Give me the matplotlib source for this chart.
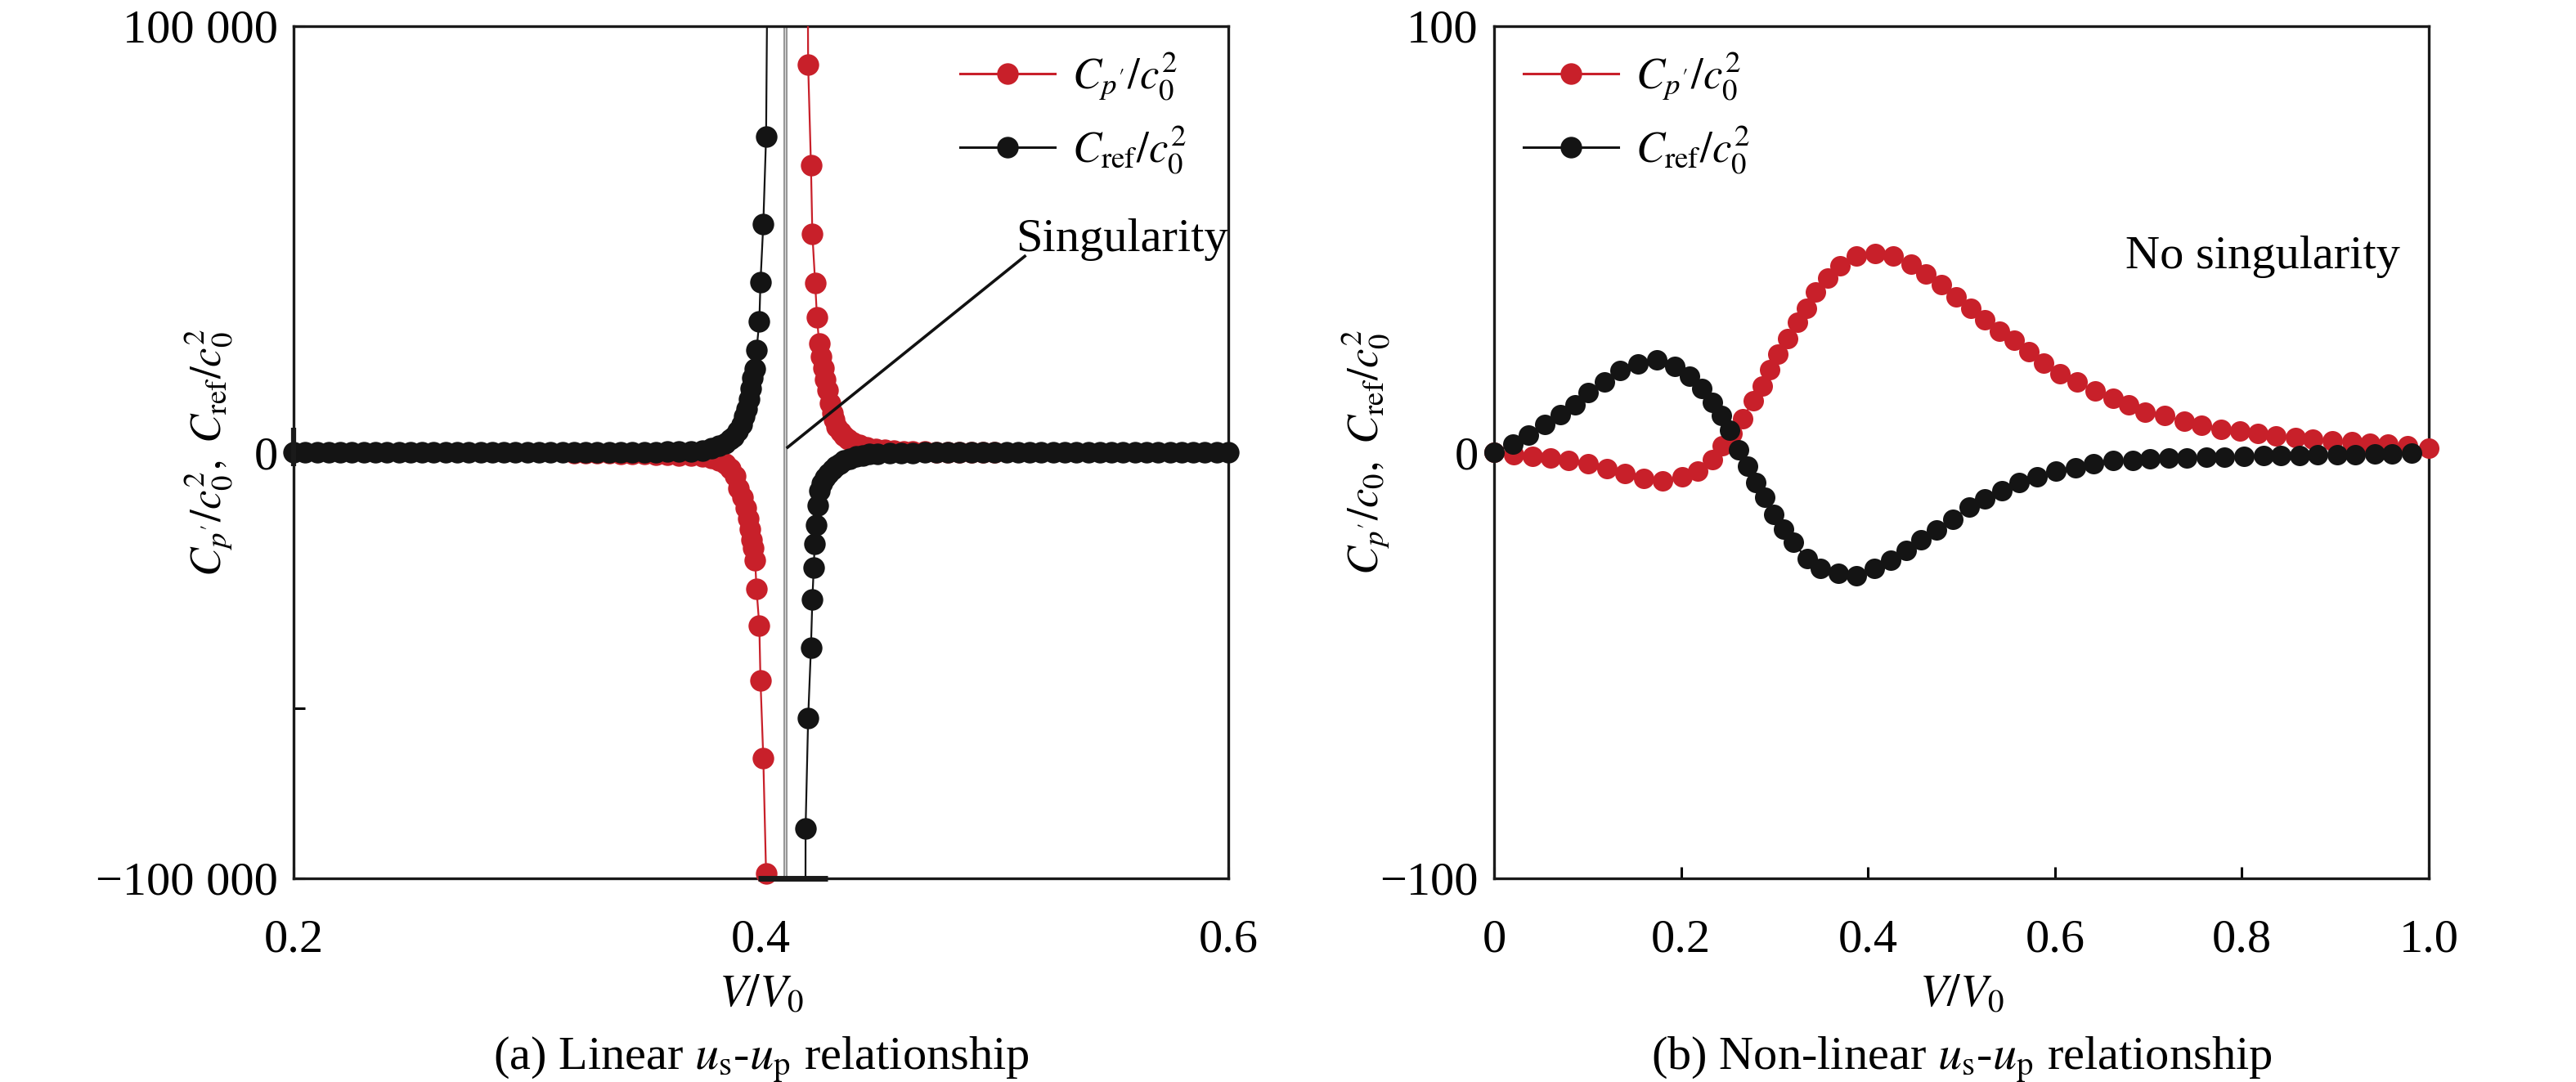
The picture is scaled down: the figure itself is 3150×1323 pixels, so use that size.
import numpy as np
import matplotlib
matplotlib.use("Agg")
import matplotlib.pyplot as plt
from matplotlib.lines import Line2D

plt.rcParams['font.family'] = ['Liberation Serif', 'DejaVu Serif']
plt.rcParams['mathtext.fontset'] = 'stix'

RED = '#c8202a'
BLACK = '#141414'

# ---- panel (a): linear us-up, singular near V/V0 = 0.41 ----
a_black_left_x = [0.200, 0.205, 0.210, 0.215, 0.220, 0.225, 0.230, 0.235, 0.240, 0.245,
                  0.250, 0.255, 0.260, 0.265, 0.270, 0.275, 0.280, 0.285, 0.290, 0.295,
                  0.300, 0.305, 0.310, 0.315, 0.320, 0.325, 0.330, 0.335, 0.340, 0.345,
                  0.350, 0.355, 0.360, 0.365, 0.3700, 0.3750, 0.3788, 0.3820, 0.3847, 0.3870,
                  0.3882, 0.3900, 0.3917, 0.3930, 0.3940, 0.3950, 0.3958, 0.3965, 0.3975, 0.3981,
                  0.3993, 0.3998, 0.4010, 0.4022, 0.4030]
a_black_left_y = [0, 0, 0, 0, 0, 0, 0, 0, 0, 0,
                  0, 0, 0, 0, 0, 0, 0, 0, 0, 0,
                  0, 0, 0, 0, 0, 10, 15, 20, 30, 40,
                  60, 80, 110, 150, 200, 400, 900, 1500, 2200, 3000,
                  3600, 5000, 6500, 8500, 10200, 12500, 15000, 17500, 19500, 23900,
                  30700, 39900, 53500, 74100, 130000]

a_black_right_x = [0.4190, 0.4191, 0.4202, 0.4214, 0.4220, 0.4226, 0.4230, 0.4236, 0.4243, 0.4249,
                   0.4262, 0.4275, 0.4290, 0.4305, 0.4320, 0.4337, 0.4355, 0.4380, 0.4407, 0.4435,
                   0.4465, 0.4500, 0.455, 0.460, 0.465, 0.470, 0.475, 0.480, 0.485, 0.490,
                   0.495, 0.500, 0.505, 0.510, 0.515, 0.520, 0.525, 0.530, 0.535, 0.540,
                   0.545, 0.550, 0.555, 0.560, 0.565, 0.570, 0.575, 0.580, 0.585, 0.590,
                   0.595, 0.600]
a_black_right_y = [-130000, -88300, -62400, -45800, -34600, -27000, -21500, -17000, -12500, -9000,
                   -7200, -6000, -5000, -4000, -3200, -2600, -2000, -1500, -1000, -700,
                   -450, -300, -200, -150, -100, -80, -60, -40, -20, 0,
                   0, 0, 0, 0, 0, 0, 0, 0, 0, 0,
                   0, 0, 0, 0, 0, 0, 0, 0, 0, 0,
                   0, 0]

a_red_left_x = [0.320, 0.325, 0.330, 0.335, 0.340, 0.345, 0.350, 0.355, 0.360, 0.365,
                0.3700, 0.3750, 0.3788, 0.3820, 0.3847, 0.3870, 0.3890, 0.3905, 0.3920, 0.3935,
                0.3945, 0.3952, 0.3960, 0.3968, 0.3975, 0.3981, 0.3993, 0.3998, 0.4010, 0.4022,
                0.4026]
a_red_left_y = [-200, -220, -250, -280, -320, -370, -430, -500, -600, -720,
                -850, -1050, -1340, -1900, -2630, -3800, -5500, -8400, -10500, -13000,
                -15500, -18000, -20500, -22500, -25300, -32000, -40700, -53500, -71700, -98900,
                -140000]

a_red_right_x = [0.4198, 0.4202, 0.4214, 0.4220, 0.4232, 0.4240, 0.4249, 0.4258, 0.4267, 0.4275,
                 0.4284, 0.4295, 0.4305, 0.4313, 0.4325, 0.4340, 0.4355, 0.4372, 0.4395, 0.4420,
                 0.4453, 0.4490, 0.4530, 0.4570, 0.4610, 0.4650, 0.4700, 0.4750, 0.4800, 0.4850,
                 0.4900, 0.4950, 0.5000]
a_red_right_y = [140000, 90900, 67400, 51300, 39700, 31600, 25500, 22500, 19800, 17000,
                 14600, 11500, 9300, 7600, 6000, 4800, 3900, 3100, 2300, 1700,
                 1200, 800, 500, 350, 250, 180, 120, 80, 50, 30,
                 20, 10, 0]

singular_v = 0.4103

# ---- panel (b): non-linear us-up ----
b_red_x = [0.000, 0.021, 0.041, 0.060, 0.080, 0.101, 0.121, 0.140, 0.160, 0.180,
           0.201, 0.218, 0.234, 0.244, 0.255, 0.266, 0.277, 0.287, 0.295, 0.304,
           0.314, 0.325, 0.334, 0.344, 0.357, 0.370, 0.388, 0.408, 0.427, 0.446,
           0.462, 0.479, 0.494, 0.510, 0.525, 0.541, 0.556, 0.572, 0.588, 0.605,
           0.624, 0.643, 0.662, 0.679, 0.696, 0.717, 0.738, 0.757, 0.778, 0.798,
           0.817, 0.836, 0.857, 0.876, 0.897, 0.918, 0.937, 0.956, 0.977, 1.000]
b_red_y = [0.0, -0.6, -0.9, -1.3, -2.0, -2.6, -3.8, -4.9, -6.1, -6.8,
           -5.8, -4.5, -1.7, 1.5, 4.4, 7.9, 12.1, 15.6, 19.4, 23.0,
           26.6, 30.5, 33.8, 37.7, 40.9, 43.8, 46.0, 46.6, 46.0, 44.1,
           41.8, 39.3, 36.4, 33.8, 31.0, 28.4, 26.2, 23.6, 21.0, 18.5,
           16.6, 14.3, 12.7, 11.1, 9.5, 8.6, 7.3, 6.3, 5.4, 5.0,
           4.4, 3.8, 3.4, 3.0, 2.6, 2.4, 2.2, 1.9, 1.5, 0.9]

b_black_x = [0.000, 0.020, 0.037, 0.054, 0.071, 0.087, 0.101, 0.118, 0.135, 0.154,
             0.174, 0.193, 0.209, 0.222, 0.234, 0.243, 0.252, 0.262, 0.271, 0.280,
             0.290, 0.299, 0.310, 0.320, 0.335, 0.349, 0.368, 0.388, 0.407, 0.424,
             0.441, 0.457, 0.473, 0.491, 0.508, 0.525, 0.543, 0.562, 0.581, 0.601,
             0.622, 0.641, 0.662, 0.683, 0.702, 0.722, 0.741, 0.762, 0.781, 0.802,
             0.823, 0.842, 0.862, 0.881, 0.902, 0.921, 0.942, 0.961, 0.982]
b_black_y = [0.0, 2.0, 4.1, 6.5, 8.9, 11.1, 14.0, 16.6, 19.1, 20.7,
             21.6, 20.1, 17.9, 15.0, 11.8, 8.6, 5.1, 0.6, -3.3, -7.1,
             -10.6, -14.5, -18.0, -21.2, -25.0, -27.3, -28.5, -28.9, -27.3, -25.3,
             -23.1, -20.5, -18.3, -15.7, -12.9, -10.9, -9.0, -7.1, -5.8, -4.5,
             -3.6, -2.6, -2.0, -1.9, -1.5, -1.3, -1.3, -1.2, -1.2, -1.0,
             -0.7, -0.7, -0.7, -0.6, -0.6, -0.5, -0.4, -0.4, -0.2]

FS = 42
LEG_FS = 38


def draw_series(ax, x, y, color, ms, lim):
    x = np.asarray(x, dtype=float)
    y = np.asarray(y, dtype=float)
    ax.plot(x, y, '-', color=color, lw=1.6, zorder=3)
    keep = np.abs(y) <= lim
    ax.plot(x[keep], y[keep], 'o', color=color, ms=ms, mew=0, clip_on=False, zorder=4)


def legend_handles(ms):
    return [Line2D([], [], color=RED, lw=2.2, marker='o', ms=ms, mew=0),
            Line2D([], [], color=BLACK, lw=2.2, marker='o', ms=ms, mew=0)]


fig = plt.figure(figsize=(31.5, 13.23), dpi=100)
W, H = 3150, 1323
ax1 = fig.add_axes([359 / W, 1 - 1074 / H, 1143 / W, 1042 / H])
ax2 = fig.add_axes([1827 / W, 1 - 1074 / H, 1143 / W, 1042 / H])

for ax in (ax1, ax2):
    for sp in ax.spines.values():
        sp.set_linewidth(2.4)
        sp.set_color('#1a1a1a')

# panel (a)
lim_a = 100000
ax1.axvline(singular_v, color='#8a8a8a', lw=3.5, zorder=2)
ax1.axvline(singular_v, color='#dcdcdc', lw=1.0, zorder=2)
draw_series(ax1, a_red_left_x, a_red_left_y, RED, 19, lim_a)
draw_series(ax1, a_red_right_x, a_red_right_y, RED, 19, lim_a)
draw_series(ax1, a_black_left_x, a_black_left_y, BLACK, 19, lim_a)
draw_series(ax1, a_black_right_x, a_black_right_y, BLACK, 19, lim_a)
ax1.set_xlim(0.2, 0.6)
ax1.set_ylim(-lim_a, lim_a)
ax1.set_xticks([0.2, 0.4, 0.6])
ax1.set_xticklabels(['0.2', '0.4', '0.6'])
ax1.set_yticks([-100000, -60000, 0, 100000])
ax1.set_yticklabels(['\u2212100 000', '', '0', '100 000'])
ax1.tick_params(axis='both', direction='in', length=10, width=2.2, labelsize=FS)
ax1.tick_params(axis='y', pad=14)
ax1.tick_params(axis='x', pad=36)
# thick bit on the bottom spine next to the singularity
ax1.plot([0.3988, 0.4285], [-lim_a, -lim_a], color='#1a1a1a', lw=5,
         solid_capstyle='butt', clip_on=False, zorder=5)
ax1.plot([0.2, 0.2], [5800, -3300], color='#1a1a1a', lw=4.5,
         solid_capstyle='butt', clip_on=False, zorder=5)

ax1.plot([0.5129, 0.4114], [46000, 1150], color='#111111', lw=2.6, zorder=6)
ax1.text(0.7725, 0.7495, 'Singularity', transform=ax1.transAxes,
         ha='left', va='center', fontsize=FS)

ax1.legend(legend_handles(19), [r'$C_{p^{\prime}}/c_0^2$', r'$C_{\mathrm{ref}}/c_0^2$'],
           loc='upper left', bbox_to_anchor=(0.713, 0.972), frameon=False,
           fontsize=LEG_FS, handlelength=2.2, handletextpad=0.4, labelspacing=0.5,
           borderpad=0, borderaxespad=0)

ax1.text(-0.091, 0.5, r'$C_{p^{\prime}}/c_0^2,\ C_{\mathrm{ref}}/c_0^2$', transform=ax1.transAxes,
         rotation=90, ha='center', va='center', fontsize=38)
ax1.text(0.5, -0.136, r'$V/V_0$', transform=ax1.transAxes, ha='center', va='center', fontsize=40)
ax1.text(0.5, -0.213, r'(a) Linear $u_{\mathrm{s}}$-$u_{\mathrm{p}}$ relationship',
         transform=ax1.transAxes, ha='center', va='center', fontsize=FS)

# panel (b)
lim_b = 100
draw_series(ax2, b_red_x, b_red_y, RED, 18, lim_b)
draw_series(ax2, b_black_x, b_black_y, BLACK, 18, lim_b)
ax2.set_xlim(0, 1.0)
ax2.set_ylim(-lim_b, lim_b)
ax2.set_xticks([0, 0.2, 0.4, 0.6, 0.8, 1.0])
ax2.set_xticklabels(['0', '0.2', '0.4', '0.6', '0.8', '1.0'])
ax2.set_yticks([-100, 0, 100])
ax2.set_yticklabels(['\u2212100', '0', '100'])
ax2.tick_params(axis='both', direction='in', labelsize=FS)
ax2.tick_params(axis='x', length=10, width=2.2, pad=36)
ax2.tick_params(axis='y', length=0, pad=14)

ax2.text(0.969, 0.729, 'No singularity', transform=ax2.transAxes,
         ha='right', va='center', fontsize=FS)
ax2.legend(legend_handles(19), [r'$C_{p^{\prime}}/c_0^2$', r'$C_{\mathrm{ref}}/c_0^2$'],
           loc='upper left', bbox_to_anchor=(0.0315, 0.972), frameon=False,
           fontsize=LEG_FS, handlelength=2.2, handletextpad=0.4, labelspacing=0.5,
           borderpad=0, borderaxespad=0)

ax2.text(-0.137, 0.5, r'$C_{p^{\prime}}/c_0,\ C_{\mathrm{ref}}/c_0^2$', transform=ax2.transAxes,
         rotation=90, ha='center', va='center', fontsize=38)
ax2.text(0.5, -0.136, r'$V/V_0$', transform=ax2.transAxes, ha='center', va='center', fontsize=40)
ax2.text(0.5, -0.213, r'(b) Non-linear $u_{\mathrm{s}}$-$u_{\mathrm{p}}$ relationship',
         transform=ax2.transAxes, ha='center', va='center', fontsize=FS)

fig.savefig('out.png', dpi=100, facecolor='white')
